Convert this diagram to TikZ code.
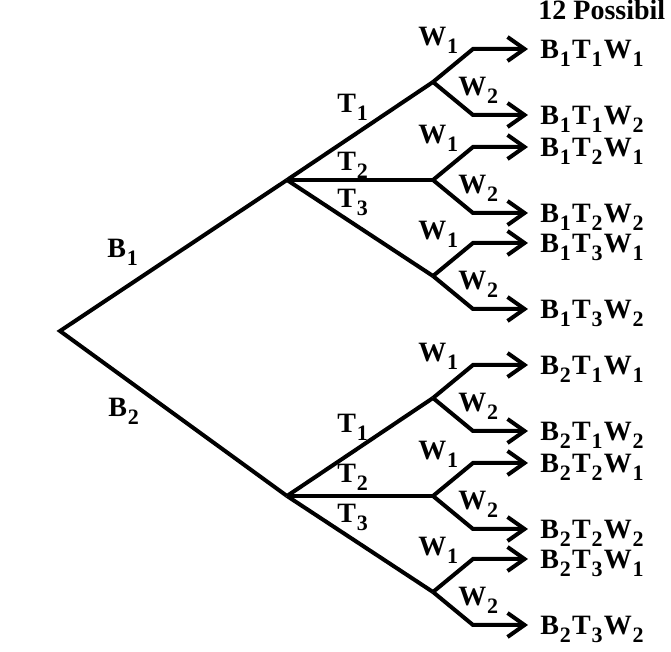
\documentclass[tikz,border=0pt]{standalone}
\usepackage{fontspec}
\setmainfont{Liberation Serif}
\usetikzlibrary{arrows.meta}
\newcommand{\lo}[1]{\kern0.4pt\raisebox{-4pt}{\fontsize{11}{11}\selectfont #1}\kern0.6pt}

\begin{document}
\begin{tikzpicture}[
  x=0.5pt, y=-0.5pt,
  font=\fontsize{14}{16}\selectfont\bfseries,
  branch/.style={line width=2pt, line join=miter},
  tip/.style={-{Straight Barb[length=8.5pt, width=12pt, line width=2pt]}},
  lbl/.style={anchor=base west, inner sep=0pt}
]
\clip (0,0) rectangle (671,652);

% root and first level
\coordinate (root) at (60,331);
\coordinate (b1) at (287,180);
\coordinate (b2) at (287,496);
\draw[branch] (b1) -- (root) -- (b2);
\node[lbl] (lb1) at (107,258) {B\lo{1}};
\node[lbl] (lb2) at (108,417) {B\lo{2}};

% second level
\foreach \bi/\ti/\y in {1/1/82,1/2/180,1/3/276,2/1/398,2/2/496,2/3/592}{
  \coordinate (t\bi\ti) at (433,\y);
  \draw[branch] (b\bi) -- (t\bi\ti);
}
\node[lbl] (lt11) at (337,113) {T\lo{1}};
\node[lbl] (lt12) at (337,171) {T\lo{2}};
\node[lbl] (lt13) at (337,208) {T\lo{3}};
\node[lbl] (lt21) at (337,433) {T\lo{1}};
\node[lbl] (lt22) at (337,483) {T\lo{2}};
\node[lbl] (lt23) at (337,523) {T\lo{3}};

% third level and outcomes
\foreach \bi/\ti/\y in {1/1/82,1/2/180,1/3/276,2/1/398,2/2/496,2/3/592}{
  \coordinate (e\bi\ti1) at (473,\y-33);
  \coordinate (e\bi\ti2) at (473,\y+33);
  \coordinate (a\bi\ti1) at (528,\y-33);
  \coordinate (a\bi\ti2) at (528,\y+33);
  \draw[branch, tip] (t\bi\ti) -- (e\bi\ti1) -- (a\bi\ti1);
  \draw[branch, tip] (t\bi\ti) -- (e\bi\ti2) -- (a\bi\ti2);
  \node[lbl] (lw\bi\ti1) at (418,\y-36) {W\lo{1}};
  \node[lbl] (lw\bi\ti2) at (458,\y+14) {W\lo{2}};
  \node[lbl] (o\bi\ti1) at (540,\y-23) {B\lo{\bi}T\lo{\ti}W\lo{1}};
  \node[lbl] (o\bi\ti2) at (540,\y+43) {B\lo{\bi}T\lo{\ti}W\lo{2}};
}

\node[lbl, font=\fontsize{14}{16}\selectfont\bfseries] (title) at (538,20) {12 Possibil};
\end{tikzpicture}
\end{document}
